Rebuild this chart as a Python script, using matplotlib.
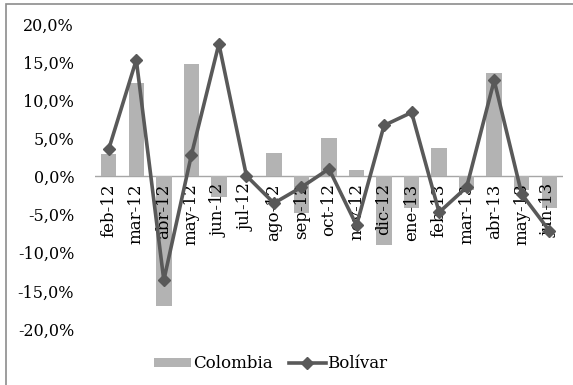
import matplotlib
matplotlib.use("Agg")
import matplotlib.pyplot as plt
from matplotlib.patches import Rectangle
from matplotlib.ticker import FuncFormatter

categories = ["feb-12", "mar-12", "abr-12", "may-12", "jun-12", "jul-12", "ago-12",
              "sep-12", "oct-12", "nov-12", "dic-12", "ene-13", "feb-13", "mar-13",
              "abr-13", "may-13", "jun-13"]
colombia = [2.9, 12.3, -17.0, 14.7, -2.7, 0.0, 3.05, -4.8, 5.1, 0.9, -9.0, -4.1,
            3.7, -1.8, 13.6, -1.8, -4.1]
bolivar = [3.6, 15.3, -13.6, 2.8, 17.4, 0.1, -3.5, -1.4, 1.0, -6.4, 6.7, 8.4,
           -4.7, -1.4, 12.6, -2.3, -7.1]
yticks = [-20, -15, -10, -5, 0, 5, 10, 15, 20]

W, H = 573, 385
fig = plt.figure(figsize=(W / 100, H / 100), dpi=100)
plt.rcParams['font.family'] = ['DejaVu Serif']

ax = fig.add_axes([95 / W, 1 - 329 / H, (563 - 95) / W, (329 - 24) / H])
x = list(range(len(categories)))
bars = ax.bar(x, colombia, width=0.56, color="#b3b3b3", label="Colombia", zorder=2)
line, = ax.plot(x, bolivar, color="#595959", lw=2.6, marker="D", markersize=6.5,
                label="Bolívar", zorder=3)
ax.axhline(0, color="#a6a6a6", lw=1, zorder=1)
ax.set_xlim(-0.5, len(categories) - 0.5)
ax.set_ylim(-20, 20)
ax.set_yticks(yticks)
ax.yaxis.set_major_formatter(FuncFormatter(lambda v, p: f"{v:.1f}%".replace(".", ",")))
ax.tick_params(axis="y", length=0, labelsize=11.5, pad=15)
for s in ax.spines.values():
    s.set_visible(False)
ax.set_xticks([])
for i, c in enumerate(categories):
    ax.text(i, -0.9, c, rotation=90, ha="center", va="top", fontsize=12,
            color="black", zorder=2.5)

leg = fig.legend([bars, line], ["Colombia", "Bolívar"], loc="center",
                 bbox_to_anchor=(271 / W, 1 - 364 / H), ncol=2,
                 frameon=False, fontsize=12, handlelength=2.2, handleheight=0.5,
                 columnspacing=1.0, handletextpad=0.1)

fig.patches.append(Rectangle((6 / W, -0.1), 1.2, 1 - 4 / H + 0.1, transform=fig.transFigure,
                             fill=False, edgecolor="#8c8c8c", lw=1.2))

fig.savefig("out.png", dpi=100)
